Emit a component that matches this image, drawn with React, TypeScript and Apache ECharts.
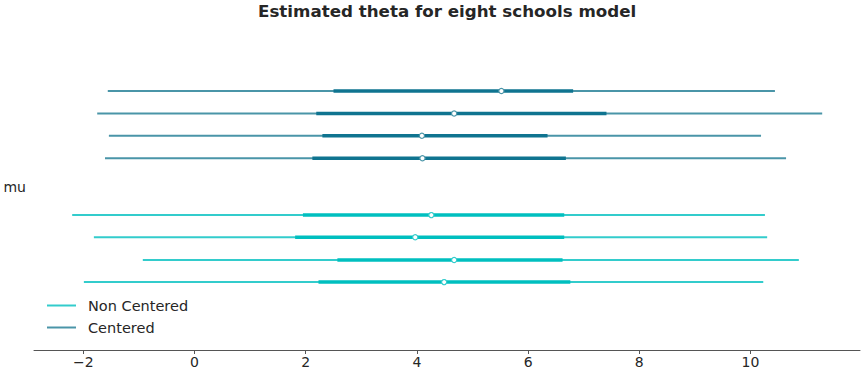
import React, { useEffect, useRef } from "react";
import * as echarts from "echarts";

const title = "Estimated theta for eight schools model";
const seriesNames = ["Non Centered", "Centered"];
const parameterLabel = ["mu"];
const xTicks = [-2, 0, 2, 4, 6, 8, 10];

// Centered model, 4 chains (top block)
const centeredRows = [0, 1, 2, 3];
const centeredLo94 = [-1.56, -1.75, -1.54, -1.61];
const centeredLo50 = [2.5, 2.19, 2.3, 2.12];
const centeredMean = [5.52, 4.67, 4.09, 4.1];
const centeredHi50 = [6.81, 7.41, 6.35, 6.68];
const centeredHi94 = [10.44, 11.29, 10.19, 10.64];

// Non Centered model, 4 chains (bottom block)
const nonCenteredRows = [5.54, 6.53, 7.54, 8.53];
const nonCenteredLo94 = [-2.2, -1.81, -0.93, -1.99];
const nonCenteredLo50 = [1.95, 1.81, 2.57, 2.23];
const nonCenteredMean = [4.26, 3.97, 4.67, 4.49];
const nonCenteredHi50 = [6.65, 6.65, 6.62, 6.76];
const nonCenteredHi94 = [10.26, 10.3, 10.87, 10.23];

const colors = {
  centeredThick: "#0f7490",
  centeredThin: "#4a95a8",
  nonThick: "#00bfbf",
  nonThin: "#33cccc",
};

function buildData(rows: number[], lo94: number[], lo50: number[], mean: number[], hi50: number[], hi94: number[]) {
  return rows.map((r, i) => [lo94[i], lo50[i], mean[i], hi50[i], hi94[i], r]);
}

function makeRenderItem(thin: string, thick: string) {
  return (params: any, api: any) => {
    const y = api.value(5);
    const p94a = api.coord([api.value(0), y]);
    const p50a = api.coord([api.value(1), y]);
    const pm = api.coord([api.value(2), y]);
    const p50b = api.coord([api.value(3), y]);
    const p94b = api.coord([api.value(4), y]);
    return {
      type: "group",
      children: [
        {
          type: "line",
          shape: { x1: p94a[0], y1: p94a[1], x2: p94b[0], y2: p94b[1] },
          style: { stroke: thin, lineWidth: 2 },
        },
        {
          type: "line",
          shape: { x1: p50a[0], y1: p50a[1], x2: p50b[0], y2: p50b[1] },
          style: { stroke: thick, lineWidth: 3.5 },
        },
        {
          type: "circle",
          shape: { cx: pm[0], cy: pm[1], r: 2.6 },
          style: { fill: "#ffffff", stroke: thin, lineWidth: 1.2 },
        },
      ],
    };
  };
}

export default function App() {
  const ref = useRef<HTMLDivElement>(null);
  useEffect(() => {
    if (!ref.current) return;
    const chart = echarts.init(ref.current, undefined, { renderer: "svg" });
    const font = "DejaVu Sans";
    chart.setOption({
      animation: false,
      backgroundColor: "#ffffff",
      title: {
        text: title,
        left: 253,
        top: 0,
        padding: [2, 5, 5, 5],
        textStyle: { fontFamily: font, fontSize: 16.7, fontWeight: "bold", color: "#262626" },
      },
      legend: {
        orient: "vertical",
        left: 47,
        top: 298,
        padding: 0,
        icon: "rect",
        itemWidth: 29,
        itemHeight: 2,
        itemGap: 7,
        data: seriesNames,
        textStyle: { fontFamily: font, fontSize: 14.5, color: "#262626", padding: [0, 0, 0, 7] },
      },
      grid: { left: 34, right: 2, top: 24, bottom: 25, containLabel: false },
      xAxis: {
        type: "value",
        min: -2.887,
        max: 11.97,
        splitLine: { show: false },
        axisLine: { show: true, onZero: false, lineStyle: { color: "#555555", width: 1 } },
        axisTick: { show: true, length: 4, lineStyle: { color: "#555555" }, customValues: xTicks },
        axisLabel: {
          customValues: xTicks,
          fontFamily: font,
          fontSize: 14,
          color: "#262626",
          margin: 5,
          formatter: (v: number) => (v < 0 ? "\u2212" + Math.abs(v) : String(v)),
        },
      },
      yAxis: [
        {
          type: "value",
          inverse: true,
          min: -2.99,
          max: 11.56,
          show: false,
          splitLine: { show: false },
        },
        {
          type: "category",
          data: parameterLabel,
          position: "left",
          axisLine: { show: false },
          axisTick: { show: false },
          splitLine: { show: false },
          axisLabel: { fontFamily: font, fontSize: 14, color: "#262626", margin: 8 },
        },
      ],
      series: [
        {
          name: "Non Centered",
          type: "custom",
          yAxisIndex: 0,
          itemStyle: { color: colors.nonThin },
          renderItem: makeRenderItem(colors.nonThin, colors.nonThick),
          data: buildData(nonCenteredRows, nonCenteredLo94, nonCenteredLo50, nonCenteredMean, nonCenteredHi50, nonCenteredHi94),
          encode: { x: [0, 1, 2, 3, 4], y: 5 },
        },
        {
          name: "Centered",
          type: "custom",
          yAxisIndex: 0,
          itemStyle: { color: colors.centeredThin },
          renderItem: makeRenderItem(colors.centeredThin, colors.centeredThick),
          data: buildData(centeredRows, centeredLo94, centeredLo50, centeredMean, centeredHi50, centeredHi94),
          encode: { x: [0, 1, 2, 3, 4], y: 5 },
        },
      ],
    });
    return () => chart.dispose();
  }, []);
  return <div ref={ref} style={{ width: 862, height: 375, position: "absolute", left: 0, top: 0 }} />;
}
